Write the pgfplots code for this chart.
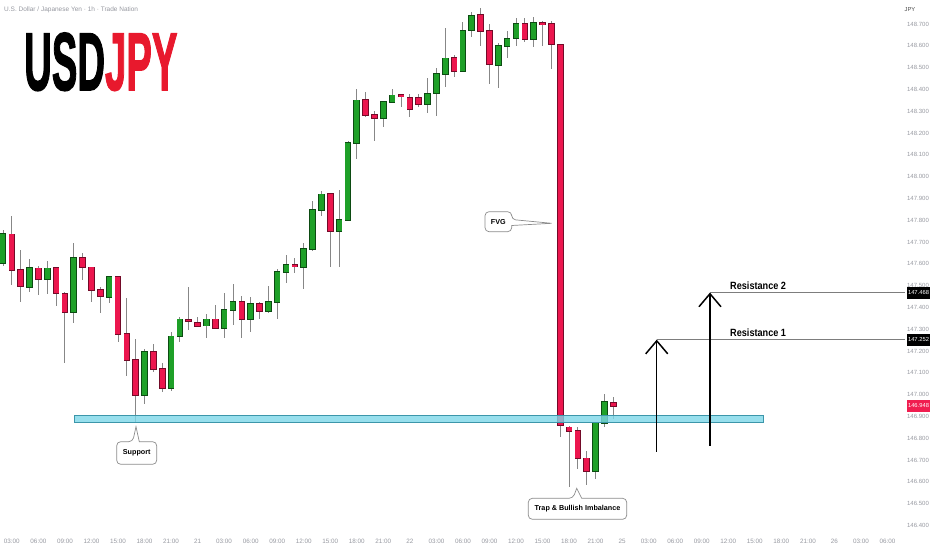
\documentclass[border=0pt]{standalone}
\usepackage{pgfplots}
\pgfplotsset{compat=1.18}
\usepackage{pgfplotstable}
\usepackage{fontspec}
\setmainfont{Liberation Sans}
\newfontfamily\logofont[BoldFeatures={FakeBold=2}]{Liberation Sans}
\usetikzlibrary{arrows.meta}
\definecolor{upfill}{RGB}{30,160,40}
\definecolor{upline}{RGB}{12,75,18}
\definecolor{dnfill}{RGB}{236,22,78}
\definecolor{dnline}{RGB}{115,10,40}
\definecolor{wick}{RGB}{135,135,135}
\definecolor{lbl}{RGB}{150,152,160}
\definecolor{zonefill}{RGB}{125,215,232}
\definecolor{zoneline}{RGB}{60,150,170}
\definecolor{pxred}{RGB}{240,30,80}
\definecolor{logored}{RGB}{232,25,45}
\definecolor{resline}{RGB}{125,125,125}

\pgfplotstableread{
i o h l c
1 147.604 147.755 147.590 147.737
4 147.494 147.622 147.471 147.581
6 147.530 147.613 147.461 147.581
9 147.379 147.695 147.328 147.627
13 147.448 147.544 147.420 147.539
17 146.998 147.209 146.957 147.195
20 147.030 147.287 147.017 147.269
21 147.269 147.356 147.241 147.345
24 147.318 147.370 147.260 147.347
26 147.306 147.466 147.260 147.388
27 147.388 147.507 147.320 147.425
29 147.347 147.448 147.287 147.416
31 147.384 147.498 147.374 147.425
32 147.425 147.576 147.347 147.562
33 147.562 147.640 147.512 147.595
35 147.585 147.695 147.484 147.668
36 147.668 147.888 147.659 147.847
37 147.847 147.934 147.819 147.920
39 147.750 147.939 147.585 147.801
40 147.801 148.163 147.796 148.154
41 148.154 148.402 148.081 148.351
44 148.269 148.345 148.228 148.342
45 148.342 148.402 148.340 148.374
49 148.333 148.452 148.292 148.381
50 148.384 148.498 148.278 148.471
51 148.471 148.682 148.411 148.544
53 148.484 148.709 148.482 148.668
54 148.672 148.755 148.640 148.737
57 148.512 148.613 148.406 148.599
58 148.599 148.668 148.544 148.631
59 148.636 148.728 148.599 148.700
61 148.631 148.732 148.595 148.705
68 146.650 146.874 146.613 146.870
69 146.870 147.003 146.851 146.966
}\greentab

\pgfplotstableread{
i o h l c
2 147.737 147.819 147.503 147.572
3 147.572 147.663 147.425 147.498
5 147.581 147.590 147.457 147.530
7 147.581 147.583 147.406 147.466
8 147.461 147.471 147.145 147.379
10 147.627 147.650 147.526 147.585
11 147.585 147.588 147.425 147.480
12 147.480 147.494 147.374 147.452
14 147.539 147.542 147.241 147.278
15 147.278 147.443 147.085 147.159
16 147.159 147.255 146.874 146.998
18 147.195 147.232 147.104 147.117
19 147.117 147.145 147.012 147.030
22 147.345 147.494 147.296 147.338
23 147.330 147.356 147.310 147.317
25 147.347 147.411 147.301 147.306
28 147.425 147.452 147.260 147.347
30 147.416 147.425 147.347 147.384
34 147.597 147.627 147.558 147.588
38 147.920 147.925 147.585 147.750
42 148.351 148.388 148.273 148.283
43 148.283 148.301 148.163 148.269
46 148.374 148.379 148.319 148.367
47 148.361 148.379 148.273 148.310
48 148.361 148.379 148.319 148.333
52 148.544 148.558 148.457 148.484
55 148.741 148.773 148.599 148.668
56 148.668 148.700 148.425 148.517
60 148.700 148.728 148.617 148.631
62 148.705 148.714 148.599 148.700
63 148.700 148.714 148.494 148.608
64 148.604 148.608 146.806 146.861
65 146.851 146.856 146.576 146.833
66 146.833 146.851 146.659 146.709
67 146.709 146.741 146.585 146.650
70 146.962 146.989 146.888 146.948
}\redtab

\pgfplotsset{
  candlebar/.style 2 args={draw=none, mark=none, forget plot,
    error bars/.cd, y dir=both, y explicit, error mark=none,
    error bar style={line width=#1, draw=#2, solid, line cap=butt}},
}

\begin{document}
\begin{tikzpicture}
\path[use as bounding box] (0,0) rectangle (932pt,550pt);
\begin{axis}[
  at={(0pt,20pt)}, anchor=south west,
  scale only axis, width=905pt, height=530pt,
  xmin=0.661, xmax=102.98, ymin=146.3789, ymax=148.8101,
  axis line style={draw=none}, tick style={draw=none},
  xtick={2,5,8,11,14,17,20,23,26,29,32,35,38,41,44,47,50,53,56,59,62,65,68,71,74,77,80,83,86,89,92,95,98,101},
  xticklabels={03:00,06:00,09:00,12:00,15:00,18:00,21:00,21,03:00,06:00,09:00,12:00,15:00,18:00,21:00,22,03:00,06:00,09:00,12:00,15:00,18:00,21:00,25,03:00,06:00,09:00,12:00,15:00,18:00,21:00,26,03:00,06:00},
  ytick={146.4,146.5,146.6,146.7,146.8,146.9,147.0,147.1,147.2,147.3,147.4,147.5,147.6,147.7,147.8,147.9,148.0,148.1,148.2,148.3,148.4,148.5,148.6,148.7},
  yticklabels={146.400,146.500,146.600,146.700,146.800,146.900,147.000,147.100,147.200,147.300,147.400,147.500,147.600,147.700,147.800,147.900,148.000,148.100,148.200,148.300,148.400,148.500,148.600,148.700},
  yticklabel pos=right,
  xticklabel style={font=\fontsize{6.3}{7}\selectfont, text=lbl, anchor=center, yshift=-11pt},
  yticklabel style={font=\fontsize{6}{7}\selectfont, text=lbl, anchor=center, xshift=13pt},
]
% wicks
\addplot[candlebar={0.9pt}{wick}] table[x=i, y expr={(\thisrow{h}+\thisrow{l})/2}, y error expr={(\thisrow{h}-\thisrow{l})/2}] {\greentab};
\addplot[candlebar={0.9pt}{wick}] table[x=i, y expr={(\thisrow{h}+\thisrow{l})/2}, y error expr={(\thisrow{h}-\thisrow{l})/2}] {\redtab};
% bodies outline
\addplot[candlebar={6.6pt}{upline}] table[x=i, y expr={(\thisrow{o}+\thisrow{c})/2}, y error expr={abs(\thisrow{o}-\thisrow{c})/2+0.0035}] {\greentab};
\addplot[candlebar={6.6pt}{dnline}] table[x=i, y expr={(\thisrow{o}+\thisrow{c})/2}, y error expr={abs(\thisrow{o}-\thisrow{c})/2+0.0035}] {\redtab};
% bodies fill
\addplot[candlebar={5pt}{upfill}] table[x=i, y expr={(\thisrow{o}+\thisrow{c})/2}, y error expr={abs(\thisrow{o}-\thisrow{c})/2}] {\greentab};
\addplot[candlebar={5pt}{dnfill}] table[x=i, y expr={(\thisrow{o}+\thisrow{c})/2}, y error expr={abs(\thisrow{o}-\thisrow{c})/2}] {\redtab};
% support zone
\addplot[fill=zonefill, fill opacity=0.8, draw=zoneline, line width=0.6pt, forget plot] coordinates {(9.03,146.873) (86.92,146.873) (86.92,146.903) (9.03,146.903)} -- cycle;
% resistance lines
\addplot[resline, line width=1.2pt, forget plot] coordinates {(74.91,147.252) (103,147.252)};
\addplot[resline, line width=1.2pt, forget plot] coordinates {(80.93,147.468) (103,147.468)};
% arrows
\addplot[black, line width=1.5pt, -{Straight Barb[length=13pt, width=22pt]}, forget plot] coordinates {(74.91,146.738) (74.91,147.252)};
\addplot[black, line width=1.5pt, -{Straight Barb[length=13pt, width=22pt]}, forget plot] coordinates {(80.93,146.766) (80.93,147.468)};
\end{axis}

\begin{scope}[x=1pt, y=-1pt, shift={(0pt,550pt)}]
% header
\node[anchor=west, inner sep=0, text=lbl, font=\fontsize{6.5}{7}\selectfont] at (4,10) {U.S. Dollar / Japanese Yen · 1h · Trade Nation};
\node[inner sep=0, text=black!70, font=\fontsize{5.8}{7}\selectfont] at (910,10) {JPY};
% logo
\node[anchor=base west, inner sep=0] at (24,90) {\scalebox{0.467}[1]{\logofont\bfseries\fontsize{82}{82}\selectfont USD\textcolor{logored}{JPY}}};
% callouts
\tikzset{callout/.style={draw=black!45, fill=white, line width=0.7pt}}
\draw[callout] (116.7,453) [rounded corners=4pt] -- (116.7,441.7) -- (132.7,441.7) [sharp corners] -- (136,426.7) -- (139.3,441.7) [rounded corners=4pt] -- (156.7,441.7) -- (156.7,464.3) -- (116.7,464.3) -- cycle;
\node[font=\bfseries\fontsize{7.2}{8}\selectfont] at (136.7,453) {Support};
\draw[callout] (485,221.7) [rounded corners=4pt] -- (485,211.7) -- (511.7,211.7) -- (511.7,219.5) [sharp corners] -- (551.7,223.3) -- (511.7,225.5) [rounded corners=4pt] -- (511.7,231.7) -- (485,231.7) -- cycle;
\node[font=\bfseries\fontsize{7.2}{8}\selectfont] at (498.3,221.7) {FVG};
\draw[callout] (528.3,508.8) [rounded corners=4pt] -- (528.3,498.3) -- (573,498.3) [sharp corners] -- (576.7,488.3) -- (581.7,498.3) [rounded corners=4pt] -- (626.7,498.3) -- (626.7,519.3) -- (528.3,519.3) -- cycle;
\node[font=\bfseries\fontsize{7.2}{8}\selectfont] at (577.5,508.8) {Trap \& Bullish Imbalance};
% resistance labels
\node[anchor=west, inner sep=0] at (730,286) {\scalebox{0.87}[1]{\bfseries\fontsize{10.5}{12}\selectfont Resistance 2}};
\node[anchor=west, inner sep=0] at (730,333) {\scalebox{0.87}[1]{\bfseries\fontsize{10.5}{12}\selectfont Resistance 1}};
% price boxes
\fill[black] (907,286.6) rectangle (930,298.6);
\node[text=white, font=\fontsize{5.8}{7}\selectfont] at (918.5,292.6) {147.468};
\fill[black] (907,333.7) rectangle (930,345.7);
\node[text=white, font=\fontsize{5.8}{7}\selectfont] at (918.5,339.7) {147.252};
\fill[pxred] (907,399.9) rectangle (930,411.9);
\node[text=white, font=\fontsize{5.8}{7}\selectfont] at (918.5,405.9) {146.948};
\end{scope}
\end{tikzpicture}
\end{document}
